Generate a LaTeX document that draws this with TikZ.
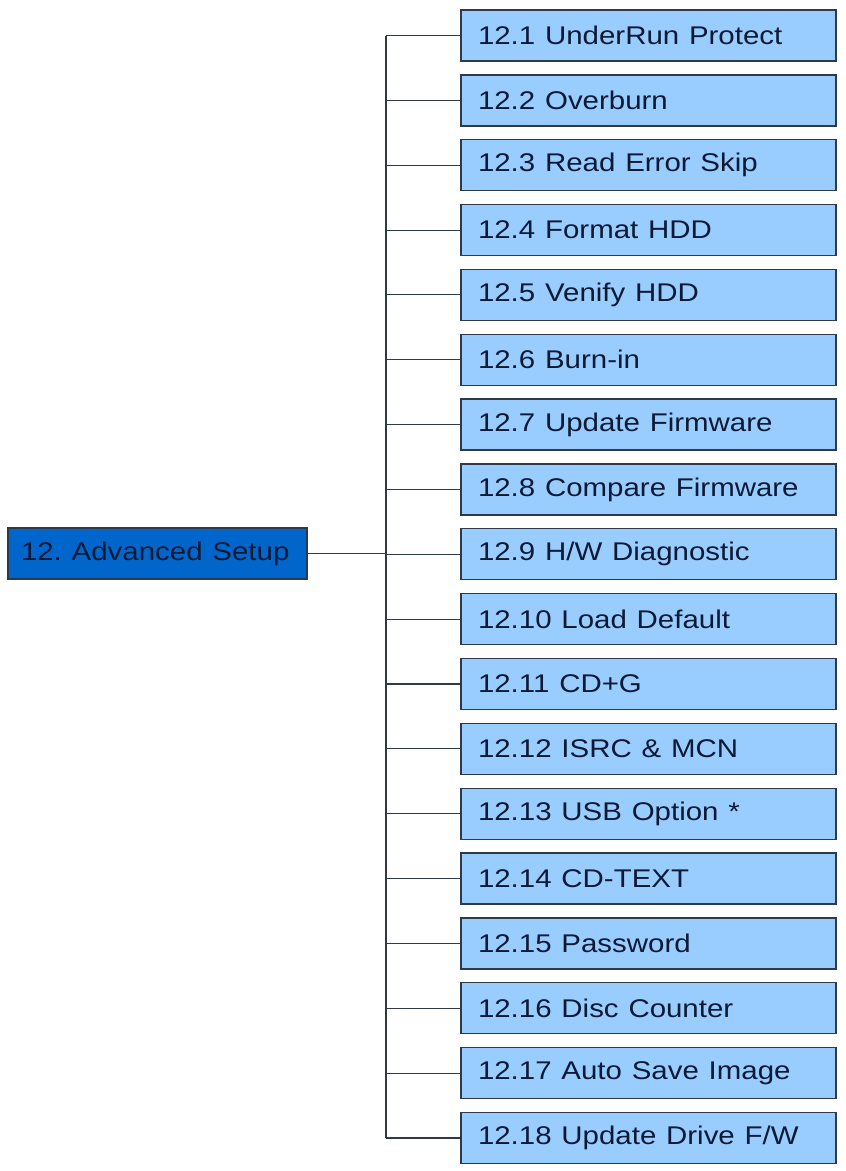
\documentclass[tikz,border=0pt]{standalone}
\usepackage{fontspec}
\setmainfont{Liberation Sans}
\usepackage{graphicx}
\frenchspacing
\definecolor{subblue}{HTML}{99CCFF}
\definecolor{rootblue}{HTML}{0066CC}
\definecolor{edgegray}{HTML}{2E3A4A}
\definecolor{inkblue}{HTML}{0D1A33}
\newcommand{\wide}[1]{\scalebox{1.15}[1]{#1}}
\tikzset{
  menubox/.style={draw=edgegray, line width=1.3pt, fill=subblue,
    minimum width=375pt, minimum height=51pt, text width=341pt,
    inner xsep=17pt, align=left, text=inkblue,
    font=\fontsize{25.6}{30}\selectfont},
  rootbox/.style={menubox, fill=rootblue, minimum width=299pt,
    text width=273pt, inner xsep=13pt},
  branch/.style={draw=edgegray, line width=1.1pt}
}
\begin{document}
\begin{tikzpicture}[x=1pt,y=1pt]
      \useasboundingbox (0,0) rectangle (846,-1171);
      \node[rootbox] (root) at (157.5,-553.5) {\wide{12. Advanced Setup}};
      \coordinate (spine) at (386,-553.5);
      \foreach \i/\txt in {1/UnderRun Protect, 2/Overburn, 3/Read Error Skip,
          4/Format HDD, 5/Venify HDD, 6/Burn-in, 7/Update Firmware,
          8/Compare Firmware, 9/{H/W Diagnostic}, 10/Load Default,
          11/CD+G, 12/ISRC \& MCN, 13/USB Option *, 14/CD-TEXT,
          15/Password, 16/Disc Counter, 17/Auto Save Image,
          18/{Update Drive F/W}}
        \node[menubox] (s\i) at (648.5,{-35.5-64.85*(\i-1)}) {\wide{12.\i\ \txt}};
      \begin{scope}[branch]
        \draw (root) to (spine);
        \draw (s1.west -| spine) to (s18.west -| spine);
        \foreach \i in {1,...,18}
          \draw (s\i.west) to (s\i.west -| spine);
      \end{scope}
    \end{tikzpicture}
\end{document}
